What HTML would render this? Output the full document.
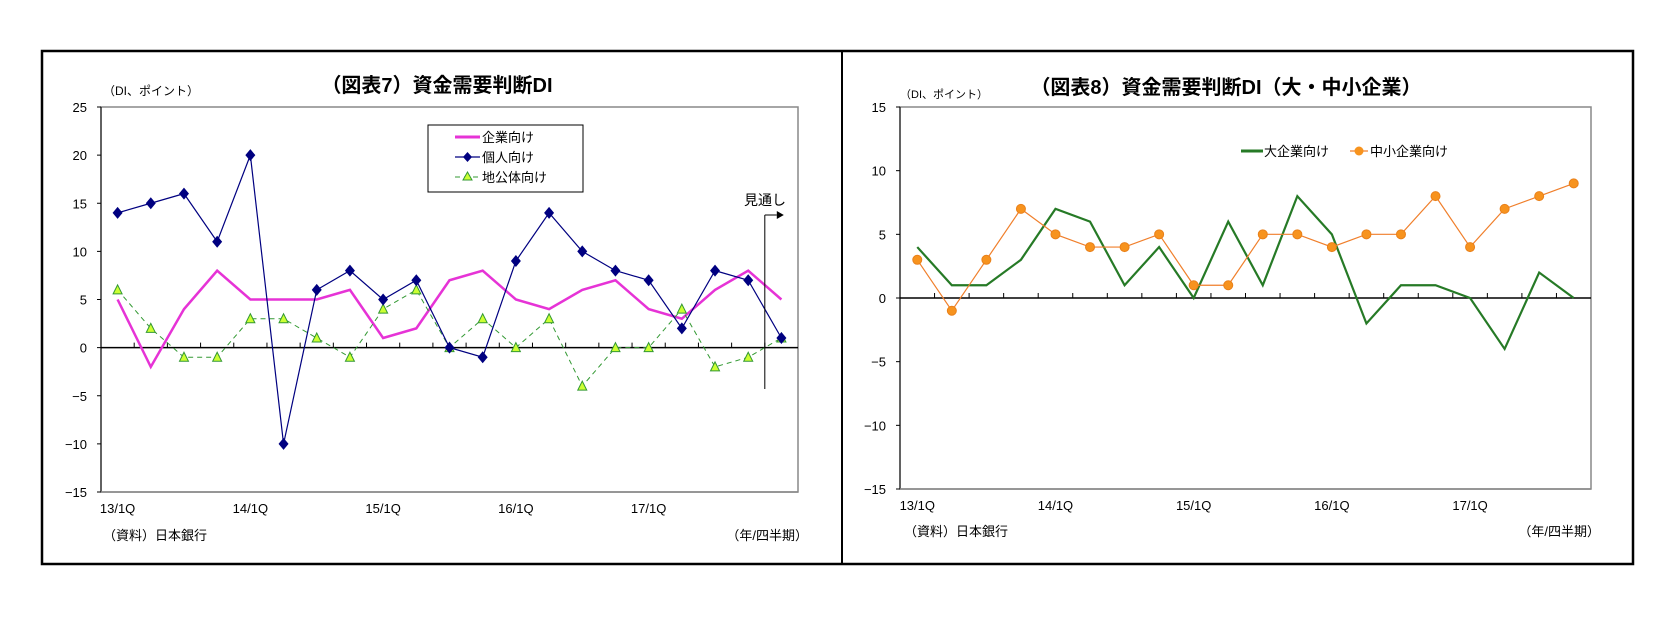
<!DOCTYPE html>
<html><head><meta charset="utf-8">
<style>
body{margin:0;background:#fff;width:1679px;height:614px;overflow:hidden;font-family:"Liberation Sans","Noto Sans CJK JP",sans-serif;}
svg text{font-family:"Liberation Sans","Noto Sans CJK JP",sans-serif;}
</style></head>
<body>
<svg id="svg" width="1679" height="614" xmlns="http://www.w3.org/2000/svg">
<rect x="42" y="51" width="1591" height="513" fill="none" stroke="#000" stroke-width="2.5"/>
<line x1="842" y1="51" x2="842" y2="564" stroke="#000" stroke-width="2"/>
<g id="c1"></g>
<g id="c2"></g>
</svg>
<script>
const cats1 = ["13/1Q","","","","14/1Q","","","","15/1Q","","","","16/1Q","","","","17/1Q","","","",""];
const corp1 = [5,-2,4,8,5,5,5,6,1,2,7,8,5,4,6,7,4,3,6,8,5];
const indiv1 = [14,15,16,11,20,-10,6,8,5,7,0,-1,9,14,10,8,7,2,8,7,1];
const local1 = [6,2,-1,-1,3,3,1,-1,4,6,0,3,0,3,-4,0,0,4,-2,-1,1];
const yTicks1 = [25,20,15,10,5,0,-5,-10,-15];
const cats2 = ["13/1Q","","","","14/1Q","","","","15/1Q","","","","16/1Q","","","","17/1Q","","",""];
const large2 = [4,1,1,3,7,6,1,4,0,6,1,8,5,-2,1,1,0,-4,2,0];
const small2 = [3,-1,3,7,5,4,4,5,1,1,5,5,4,5,5,8,4,7,8,9];
const yTicks2 = [15,10,5,0,-5,-10,-15];
const NS="http://www.w3.org/2000/svg";
function mk(parent,tag,attrs,txt){const e=document.createElementNS(NS,tag);for(const k in attrs)e.setAttribute(k,attrs[k]);if(txt!==undefined)e.textContent=txt;parent.appendChild(e);return e;}

function axes(g,L,R,T,B,ymin,ymax,ticks,cats){
  const n=cats.length,bw=(R-L)/n;
  const X=i=>L+bw*(i+0.5), Y=v=>B-(v-ymin)/(ymax-ymin)*(B-T);
  const pa=mk(g,'rect',{x:L,y:T,width:R-L,height:B-T,fill:'none',stroke:'#888','stroke-width':1.5});
  
  
  mk(g,'line',{x1:L,y1:T,x2:L,y2:B,stroke:'#000','stroke-width':1});
  mk(g,'line',{x1:L,y1:B,x2:R,y2:B,stroke:'#888','stroke-width':1.5});
  ticks.forEach(t=>{
    const tl=mk(g,'text',{x:L-14,y:Y(t)+5,'text-anchor':'end','font-size':13},t<0?'\u2212'+(-t):String(t));
    
    
    mk(g,'line',{x1:L-4,y1:Y(t),x2:L,y2:Y(t),stroke:'#000'});
  });
  const z=mk(g,'line',{x1:L,y1:Y(0),x2:R,y2:Y(0),stroke:'#000','stroke-width':1.5});
  
  
  for(let i=1;i<n;i++) mk(g,'line',{x1:L+bw*i,y1:Y(0),x2:L+bw*i,y2:Y(0)-5,stroke:'#000'});
  cats.forEach((c,i)=>{ if(c){const t=mk(g,'text',{x:X(i),y:B+21,'text-anchor':'middle','font-size':13},c);
    
    }});
  return {X,Y};
}
function line(g,arr,X,Y,attrs,name){
  const p=mk(g,'polyline',Object.assign({points:arr.map((v,i)=>X(i)+','+Y(v)).join(' '),fill:'none'},attrs));
  
  
}
// Chart 7
const g1=document.getElementById('c1');
const a1=axes(g1,101,798,107,492,-15,25,yTicks1,cats1);
let t=mk(g1,'text',{x:437,y:92,'text-anchor':'middle','font-size':20,'font-weight':'bold'},'（図表7）資金需要判断DI');

t=mk(g1,'text',{x:103,y:95,'font-size':12},'（DI、ポイント）');

t=mk(g1,'text',{x:103,y:540,'font-size':13},'（資料）日本銀行');

t=mk(g1,'text',{x:808,y:540,'text-anchor':'end','font-size':13},'（年/四半期）');

line(g1,corp1,a1.X,a1.Y,{stroke:'#e633d6','stroke-width':2.5},'series-corporate');
line(g1,local1,a1.X,a1.Y,{stroke:'#339933','stroke-width':1,'stroke-dasharray':'5,4'},'series-local-gov');
line(g1,indiv1,a1.X,a1.Y,{stroke:'#000080','stroke-width':1.2},'series-individual');
local1.forEach((v,i)=>{const x=a1.X(i),y=a1.Y(v);const m=mk(g1,'polygon',{points:`${x},${y-5} ${x-4.5},${y+4} ${x+4.5},${y+4}`,fill:'#ccff33',stroke:'#339933','stroke-width':1});
  });
indiv1.forEach((v,i)=>{const x=a1.X(i),y=a1.Y(v);const m=mk(g1,'polygon',{points:`${x},${y-6} ${x+5},${y} ${x},${y+6} ${x-5},${y}`,fill:'#000080'});
  });
// forecast marker
const fx=(a1.X(19)+a1.X(20))/2;
let fl=mk(g1,'line',{x1:fx,y1:215,x2:fx,y2:389,stroke:'#000','stroke-width':1});

mk(g1,'line',{x1:fx,y1:215,x2:fx+12,y2:215,stroke:'#000'});
mk(g1,'polygon',{points:`${fx+12},211 ${fx+19},215 ${fx+12},219`,fill:'#000'});
t=mk(g1,'text',{x:786,y:205,'text-anchor':'end','font-size':14},'見通し');

// legend 1
const lg=mk(g1,'g',{});

mk(lg,'rect',{x:428,y:125,width:155,height:67,fill:'#fff',stroke:'#000','stroke-width':1});
mk(lg,'line',{x1:455,y1:137,x2:480,y2:137,stroke:'#e633d6','stroke-width':3});
mk(lg,'text',{x:482,y:142,'font-size':13},'企業向け');
mk(lg,'line',{x1:455,y1:157,x2:480,y2:157,stroke:'#000080','stroke-width':1.2});
mk(lg,'polygon',{points:'467.5,152 472,157 467.5,162 463,157',fill:'#000080'});
mk(lg,'text',{x:482,y:162,'font-size':13},'個人向け');
mk(lg,'line',{x1:455,y1:177,x2:480,y2:177,stroke:'#339933','stroke-width':1,'stroke-dasharray':'5,4'});
mk(lg,'polygon',{points:'467.5,172 463,180 472,180',fill:'#ccff33',stroke:'#339933'});
mk(lg,'text',{x:482,y:182,'font-size':13},'地公体向け');

// Chart 8
const g2=document.getElementById('c2');
const a2=axes(g2,900,1591,107,489,-15,15,yTicks2,cats2);
t=mk(g2,'text',{x:1226,y:94,'text-anchor':'middle','font-size':20,'font-weight':'bold'},'（図表8）資金需要判断DI（大・中小企業）');

t=mk(g2,'text',{x:900,y:98,'font-size':11},'（DI、ポイント）');

t=mk(g2,'text',{x:904,y:536,'font-size':13},'（資料）日本銀行');

t=mk(g2,'text',{x:1600,y:536,'text-anchor':'end','font-size':13},'（年/四半期）');

line(g2,large2,a2.X,a2.Y,{stroke:'#267a26','stroke-width':2.2},'series-large-firms');
line(g2,small2,a2.X,a2.Y,{stroke:'#f07f2b','stroke-width':1.2},'series-small-firms');
small2.forEach((v,i)=>{const m=mk(g2,'circle',{cx:a2.X(i),cy:a2.Y(v),r:4.5,fill:'#f7931e',stroke:'#e9801a'});
  });
const lg2=mk(g2,'g',{});

mk(lg2,'line',{x1:1241,y1:151,x2:1263,y2:151,stroke:'#267a26','stroke-width':3});
mk(lg2,'text',{x:1264,y:156,'font-size':13},'大企業向け');
mk(lg2,'line',{x1:1350,y1:151,x2:1368,y2:151,stroke:'#f07f2b','stroke-width':1.2});
mk(lg2,'circle',{cx:1359,cy:151,r:4.5,fill:'#f7931e'});
mk(lg2,'text',{x:1370,y:156,'font-size':13},'中小企業向け');
</script>
</body></html>
